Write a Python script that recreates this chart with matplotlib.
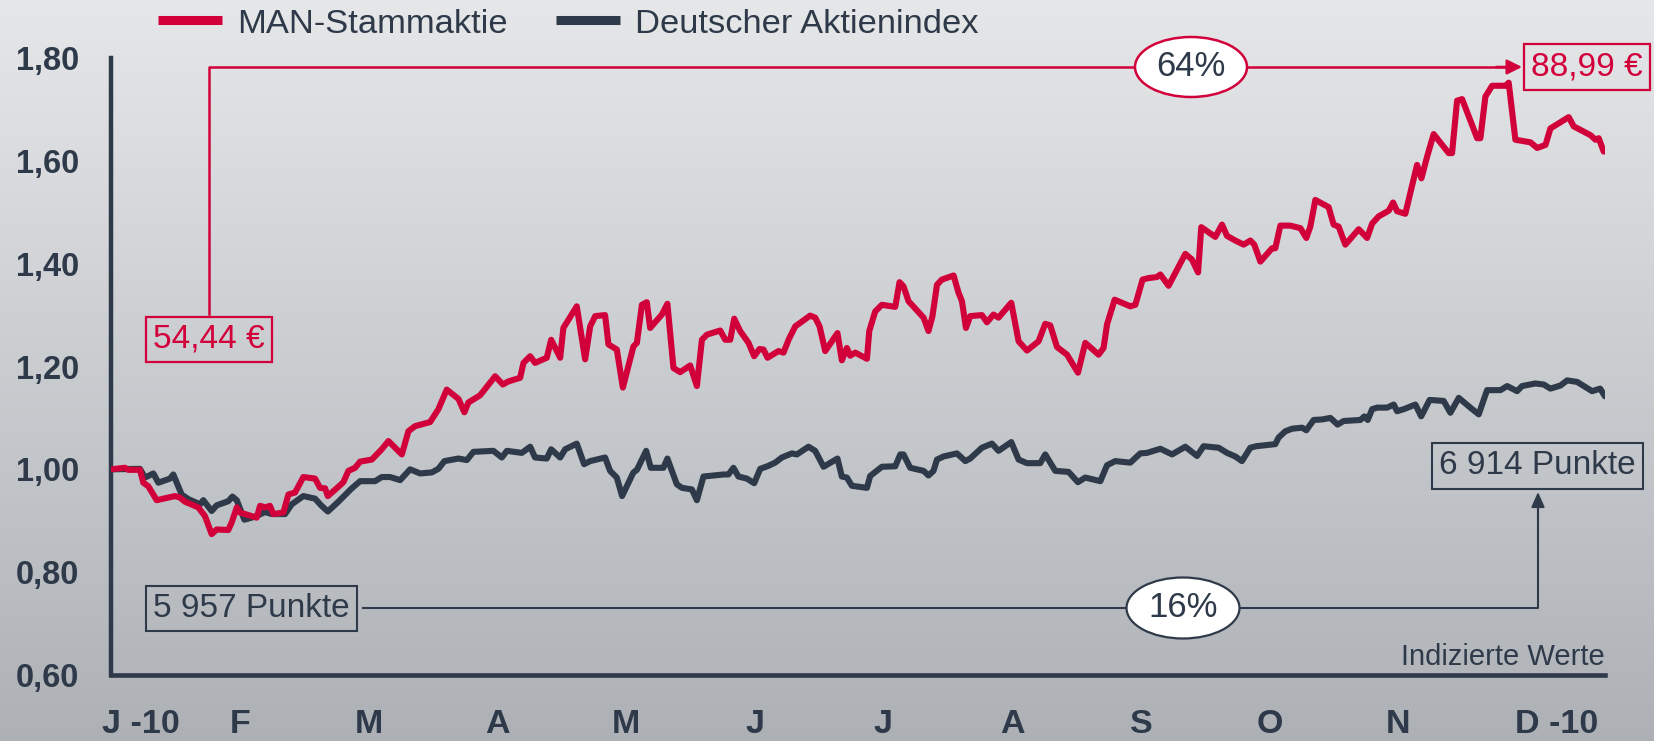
import numpy as np
import matplotlib
matplotlib.use("Agg")
import matplotlib.pyplot as plt
from matplotlib.lines import Line2D
from matplotlib.patches import Ellipse

# ---------------- data ----------------
# x positions in months since start of January 2010 (0 = Jan, 11 = Dec)
man_x = [0.00, 0.109, 0.134, 0.225, 0.251, 0.290, 0.355, 0.497, 0.536, 0.575, 0.678, 0.730, 0.782, 0.821,
         0.911, 0.938, 0.977, 1.002, 1.041, 1.132, 1.158, 1.197, 1.235, 1.261, 1.339, 1.378, 1.430, 1.494,
         1.585, 1.624, 1.663, 1.684, 1.766, 1.805, 1.844, 1.896, 1.935, 2.026, 2.103, 2.155, 2.207, 2.259,
         2.310, 2.362, 2.479, 2.543, 2.608, 2.699, 2.745, 2.776, 2.867, 2.984, 3.044, 3.087, 3.178, 3.204,
         3.256, 3.294, 3.385, 3.419, 3.489, 3.514, 3.618, 3.683, 3.722, 3.761, 3.838, 3.864, 3.929, 3.976,
         4.058, 4.085, 4.124, 4.162, 4.188, 4.279, 4.322, 4.369, 4.421, 4.499, 4.551, 4.590, 4.629, 4.732,
         4.771, 4.810, 4.841, 4.887, 4.952, 4.996, 5.037, 5.068, 5.100, 5.185, 5.224, 5.263, 5.315, 5.431,
         5.470, 5.504, 5.548, 5.643, 5.677, 5.716, 5.742, 5.781, 5.872, 5.890, 5.936, 5.988, 6.092, 6.125,
         6.156, 6.195, 6.312, 6.350, 6.381, 6.416, 6.454, 6.545, 6.584, 6.610, 6.641, 6.674, 6.765, 6.804,
         6.855, 6.894, 6.993, 7.050, 7.115, 7.205, 7.257, 7.296, 7.348, 7.426, 7.511, 7.568, 7.671, 7.710,
         7.737, 7.796, 7.918, 7.957, 8.013, 8.060, 8.125, 8.151, 8.215, 8.345, 8.397, 8.444, 8.469, 8.578,
         8.630, 8.669, 8.733, 8.798, 8.850, 8.881, 8.928, 9.019, 9.044, 9.083, 9.161, 9.239, 9.285, 9.316,
         9.355, 9.458, 9.497, 9.536, 9.588, 9.692, 9.757, 9.796, 9.847, 9.925, 9.959, 9.990, 10.054, 10.145,
         10.179, 10.223, 10.274, 10.391, 10.417, 10.456, 10.495, 10.612, 10.637, 10.676, 10.728, 10.832,
         10.857, 10.909, 11.026, 11.078, 11.143, 11.181, 11.323, 11.362, 11.492, 11.531, 11.556, 11.595]
man_y = [1.000, 1.003, 0.999, 0.999, 0.974, 0.967, 0.940, 0.948, 0.945, 0.937, 0.926, 0.909, 0.874, 0.883,
         0.882, 0.897, 0.926, 0.916, 0.913, 0.906, 0.929, 0.926, 0.929, 0.913, 0.916, 0.951, 0.955, 0.985,
         0.982, 0.964, 0.963, 0.948, 0.966, 0.975, 0.997, 1.003, 1.015, 1.019, 1.039, 1.055, 1.042, 1.029,
         1.074, 1.084, 1.092, 1.117, 1.155, 1.137, 1.111, 1.130, 1.144, 1.181, 1.165, 1.171, 1.178, 1.207,
         1.220, 1.207, 1.217, 1.252, 1.217, 1.275, 1.317, 1.214, 1.278, 1.298, 1.300, 1.243, 1.233, 1.159,
         1.239, 1.246, 1.320, 1.325, 1.275, 1.301, 1.322, 1.197, 1.189, 1.202, 1.162, 1.252, 1.262, 1.270,
         1.252, 1.252, 1.293, 1.269, 1.246, 1.220, 1.234, 1.233, 1.217, 1.230, 1.227, 1.252, 1.278, 1.299,
         1.295, 1.278, 1.230, 1.265, 1.212, 1.236, 1.221, 1.227, 1.215, 1.269, 1.307, 1.320, 1.316, 1.364,
         1.356, 1.327, 1.295, 1.269, 1.298, 1.359, 1.369, 1.377, 1.343, 1.327, 1.275, 1.298, 1.300, 1.286,
         1.301, 1.295, 1.324, 1.249, 1.231, 1.249, 1.283, 1.280, 1.238, 1.223, 1.188, 1.246, 1.223, 1.236,
         1.282, 1.330, 1.317, 1.320, 1.369, 1.372, 1.374, 1.379, 1.357, 1.419, 1.408, 1.383, 1.471, 1.452,
         1.476, 1.454, 1.445, 1.437, 1.445, 1.437, 1.404, 1.430, 1.430, 1.474, 1.474, 1.469, 1.450, 1.472,
         1.524, 1.510, 1.476, 1.472, 1.437, 1.467, 1.450, 1.478, 1.492, 1.503, 1.519, 1.502, 1.497, 1.592,
         1.566, 1.608, 1.652, 1.615, 1.615, 1.717, 1.720, 1.644, 1.644, 1.725, 1.746, 1.746,
         1.752, 1.641, 1.636, 1.625, 1.631, 1.663, 1.685, 1.667, 1.650, 1.641, 1.644, 1.618]

dax_x = [0.00, 0.225, 0.264, 0.329, 0.368, 0.458, 0.484, 0.549, 0.601, 0.692, 0.717, 0.782, 0.821, 0.911,
         0.943, 0.977, 1.036, 1.119, 1.197, 1.249, 1.352, 1.404, 1.494, 1.585, 1.632, 1.684, 1.766, 1.870,
         1.935, 2.051, 2.103, 2.168, 2.246, 2.323, 2.401, 2.492, 2.543, 2.590, 2.699, 2.764, 2.815, 2.970,
         3.036, 3.075, 3.191, 3.256, 3.294, 3.385, 3.419, 3.489, 3.528, 3.618, 3.675, 3.722, 3.838, 3.877,
         3.929, 3.970, 4.058, 4.085, 4.157, 4.193, 4.291, 4.322, 4.395, 4.434, 4.512, 4.551, 4.602, 4.758,
         4.796, 4.835, 4.874, 4.939, 4.996, 5.043, 5.099, 5.159, 5.211, 5.289, 5.328, 5.418, 5.470, 5.535,
         5.643, 5.677, 5.716, 5.755, 5.872, 5.897, 5.988, 6.092, 6.131, 6.156, 6.208, 6.312, 6.350, 6.389,
         6.416, 6.467, 6.571, 6.636, 6.674, 6.765, 6.843, 6.894, 6.993, 7.050, 7.115, 7.218, 7.257, 7.335,
         7.438, 7.511, 7.568, 7.685, 7.737, 7.801, 7.918, 7.995, 8.047, 8.151, 8.242, 8.345, 8.436, 8.487,
         8.604, 8.669, 8.733, 8.785, 8.850, 8.897, 9.044, 9.070, 9.122, 9.174, 9.252, 9.285, 9.342, 9.407,
         9.472, 9.528, 9.575, 9.705, 9.736, 9.762, 9.796, 9.835, 9.913, 9.964, 9.990, 10.042, 10.132,
         10.177, 10.243, 10.352, 10.404, 10.469, 10.559, 10.624, 10.689, 10.793, 10.845, 10.922, 10.961,
         11.064, 11.129, 11.181, 11.259, 11.311, 11.389, 11.505, 11.567, 11.605]
dax_y = [1.000, 1.001, 0.984, 0.992, 0.974, 0.982, 0.990, 0.951, 0.942, 0.932, 0.940, 0.919, 0.930, 0.938,
         0.947, 0.940, 0.902, 0.908, 0.917, 0.913, 0.913, 0.932, 0.948, 0.943, 0.930, 0.918, 0.937, 0.963,
         0.977, 0.977, 0.985, 0.985, 0.979, 1.000, 0.992, 0.994, 1.001, 1.016, 1.021, 1.018, 1.034, 1.036,
         1.023, 1.036, 1.032, 1.044, 1.023, 1.021, 1.039, 1.023, 1.039, 1.050, 1.010, 1.016, 1.023, 0.997,
         0.984, 0.948, 0.994, 0.999, 1.036, 1.003, 1.003, 1.021, 0.971, 0.964, 0.961, 0.940, 0.986, 0.990,
         0.990, 1.003, 0.986, 0.982, 0.973, 1.001, 1.006, 1.013, 1.023, 1.031, 1.029, 1.044, 1.036, 1.005,
         1.021, 0.986, 0.984, 0.968, 0.964, 0.987, 1.005, 1.006, 1.029, 1.029, 1.003, 0.997, 0.988, 0.997,
         1.019, 1.025, 1.031, 1.016, 1.021, 1.042, 1.050, 1.036, 1.053, 1.019, 1.012, 1.012, 1.029, 0.997,
         0.995, 0.975, 0.984, 0.977, 1.008, 1.016, 1.013, 1.031, 1.032, 1.040, 1.029, 1.044, 1.026, 1.045,
         1.042, 1.032, 1.025, 1.016, 1.042, 1.045, 1.049, 1.062, 1.074, 1.079, 1.081, 1.076, 1.096, 1.097,
         1.100, 1.087, 1.094, 1.096, 1.103, 1.096, 1.117, 1.120, 1.120, 1.126, 1.113, 1.117, 1.126,
         1.103, 1.135, 1.133, 1.110, 1.139, 1.120, 1.107, 1.154, 1.154, 1.162, 1.152, 1.162,
         1.167, 1.165, 1.157, 1.163, 1.173, 1.170, 1.152, 1.157, 1.142]

series_names = ["MAN-Stammaktie", "Deutscher Aktienindex"]
month_labels = ["J -10", "F", "M", "A", "M", "J", "J", "A", "S", "O", "N", "D -10"]
y_ticks = [0.60, 0.80, 1.00, 1.20, 1.40, 1.60, 1.80]
y_tick_labels = ["0,60", "0,80", "1,00", "1,20", "1,40", "1,60", "1,80"]
man_start_label, man_end_label, man_change = "54,44 €", "88,99 €", "64%"
dax_start_label, dax_end_label, dax_change = "5 957 Punkte", "6 914 Punkte", "16%"
note_text = "Indizierte Werte"

# ---------------- style ----------------
RED = "#d2003a"
DARK = "#2e3a49"
plt.rcParams["font.family"] = ["Liberation Sans", "DejaVu Sans"]

W, H = 1654, 741
fig = plt.figure(figsize=(W / 100, H / 100), dpi=100)

# background gradient
bg = fig.add_axes([0, 0, 1, 1], zorder=-10)
grad = np.linspace(0, 1, 256).reshape(-1, 1)
top = np.array([230, 231, 233]) / 255
bot = np.array([173, 177, 182]) / 255
img = top[None, None, :] * (1 - grad[:, :, None]) + bot[None, None, :] * grad[:, :, None]
bg.imshow(img, aspect="auto", extent=[0, 1, 0, 1], origin="upper")
bg.axis("off")

left, right = 111 / W, 1605 / W
bottom, topy = 1 - 675 / H, 1 - 58 / H
ax = fig.add_axes([left, bottom, right - left, topy - bottom])
ax.patch.set_alpha(0)
ax.set_xlim(0, 11.605)
ax.set_ylim(0.60, 1.80)

ax.plot(dax_x, dax_y, color=DARK, lw=4.4, solid_joinstyle="round", solid_capstyle="round", zorder=3)
ax.plot(man_x, man_y, color=RED, lw=4.4, solid_joinstyle="round", solid_capstyle="round", zorder=4)

for s in ["top", "right"]:
    ax.spines[s].set_visible(False)
ax.spines["left"].set_color(DARK)
ax.spines["left"].set_linewidth(3.2)
ax.spines["bottom"].set_color(DARK)
ax.spines["bottom"].set_linewidth(3.3)
ax.spines["left"].set_capstyle("projecting")

ax.set_yticks(y_ticks)
ax.set_yticklabels(y_tick_labels)
ax.tick_params(axis="y", length=0, pad=23, labelsize=23.5, labelcolor=DARK)
for lab in ax.get_yticklabels():
    lab.set_fontweight("bold")
ax.set_xticks([])

# month labels: first letter centred on the month position
for i, lbl in enumerate(month_labels):
    if lbl.startswith("J -"):
        ha, dx = "left", -9
    elif lbl.startswith("D -"):
        ha, dx = "left", -12
    else:
        ha, dx = "center", 0
    ax.annotate(lbl, xy=(i, 0), xycoords=("data", "axes fraction"),
                xytext=(dx, -58), textcoords="offset pixels", ha=ha, va="baseline",
                fontsize=24.5, fontweight="bold", color=DARK, annotation_clip=False)

# legend
handles = [Line2D([0], [0], color=RED, lw=6.5, solid_capstyle="butt"),
           Line2D([0], [0], color=DARK, lw=6.5, solid_capstyle="butt")]
leg = fig.legend(handles, series_names, loc="center left", bbox_to_anchor=(158 / W, 1 - 24 / H),
                 ncol=2, frameon=False, borderpad=0, borderaxespad=0, fontsize=24.8,
                 handlelength=1.86, handletextpad=0.43, columnspacing=1.4)
for t in leg.get_texts():
    t.set_color(DARK)

# helper to convert pixel position in the reference layout to data coordinates
def px(xp, yp):
    xd = (xp - 111) / (1605 - 111) * 11.605
    yd = 1.80 - (yp - 58) / (675 - 58) * 1.20
    return xd, yd

# MAN annotation
x0, y0 = px(209, 339.5)
ax.text(x0, y0, man_start_label, color=RED, fontsize=24, ha="center", va="center",
        bbox=dict(boxstyle="square,pad=0.22", fc="none", ec=RED, lw=1.6), zorder=5)
xa, ya_top = px(209, 314)
_, yl = px(209, 67)
xe, _ = px(1522, 67)
ax.plot([xa, xa, xe - 0.05], [ya_top, yl, yl], color=RED, lw=1.8, clip_on=False, zorder=5)
ax.annotate("", xy=(xe, yl), xytext=(xe - 0.2, yl),
            arrowprops=dict(arrowstyle="-|>,head_length=0.9,head_width=0.45", color=RED, lw=1.8,
                            shrinkA=0, shrinkB=0), annotation_clip=False, zorder=6)
xm, _ = px(1191, 67)
ew = 112 / 1494 * 11.605
eh = 60 / 617 * 1.2
ax.add_patch(Ellipse((xm, yl), ew, eh, fc="white", ec=RED, lw=1.8, zorder=6, clip_on=False))
ax.text(xm, yl, man_change, color=DARK, fontsize=25, ha="center", va="center", zorder=7)
xb, yb = px(1587, 67)
ax.text(xb, yb, man_end_label, color=RED, fontsize=24, ha="center", va="center",
        bbox=dict(boxstyle="square,pad=0.22", fc="none", ec=RED, lw=1.6), zorder=5, clip_on=False)

# DAX annotation
x1, y1 = px(251.5, 608.5)
ax.text(x1, y1, dax_start_label, color=DARK, fontsize=24, ha="center", va="center",
        bbox=dict(boxstyle="square,pad=0.22", fc="none", ec=DARK, lw=1.5), zorder=5)
xs, yline = px(363, 608)
xv, _ = px(1538, 608)
_, ytip = px(1538, 492)
ax.plot([xs, xv, xv], [yline, yline, ytip - 0.02], color=DARK, lw=1.5, zorder=5)
ax.annotate("", xy=(xv, ytip), xytext=(xv, ytip - 0.05),
            arrowprops=dict(arrowstyle="-|>,head_length=0.9,head_width=0.4", color=DARK, lw=1.5,
                            shrinkA=0, shrinkB=0), zorder=6)
xm2, _ = px(1183, 608)
ax.add_patch(Ellipse((xm2, yline), 113 / 1494 * 11.605, 61 / 617 * 1.2, fc="white", ec=DARK,
                     lw=1.6, zorder=6))
ax.text(xm2, yline, dax_change, color=DARK, fontsize=25, ha="center", va="center", zorder=7)
x2, y2 = px(1537.5, 466)
ax.text(x2, y2, dax_end_label, color=DARK, fontsize=24, ha="center", va="center",
        bbox=dict(boxstyle="square,pad=0.22", fc="none", ec=DARK, lw=1.5), zorder=5, clip_on=False)

# note
xn, yn = px(1605, 665)
ax.text(xn, yn, note_text, color=DARK, fontsize=21, ha="right", va="baseline")

fig.savefig("out.png", dpi=100)
